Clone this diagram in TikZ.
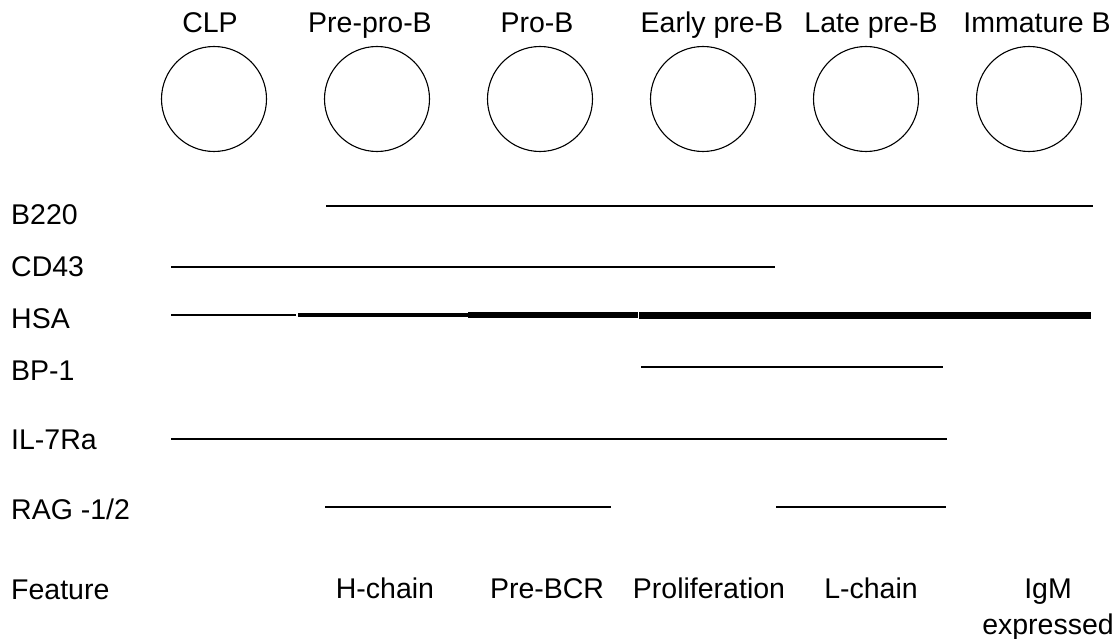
\documentclass[tikz,border=0pt]{standalone}
\usepackage{fontspec}
\setmainfont{Liberation Sans}
\tikzset{
  stage/.style={circle,draw,line width=1.1pt,minimum size=105pt,inner sep=0pt},
  lbl/.style={font=\fontsize{28.5}{36}\selectfont,inner sep=0pt,anchor=base},
  marker/.style={lbl,anchor=base west},
  bar/.style={line width=2pt}
}
\begin{document}
\begin{tikzpicture}[x=1pt,y=-1pt]
      \useasboundingbox (0,0) rectangle (1115,639);
      % stages
      \draw
        (214,99) node[stage] (clp){}
        (377,99) node[stage] (prepro){}
        (540,99) node[stage] (pro){}
        (703,99) node[stage] (earlypre){}
        (866,99) node[stage] (latepre){}
        (1029,99) node[stage] (immature){};
      \draw
        (210,33) node[lbl] (tclp){CLP}
        (370,33) node[lbl] (tprepro){Pre-pro-B}
        (537,33) node[lbl] (tpro){Pro-B}
        (712,33) node[lbl] (tearlypre){Early pre-B}
        (871,33) node[lbl] (tlatepre){Late pre-B}
        (1037,33) node[lbl] (timmature){Immature B};
      % markers
      \draw
        (11,224) node[marker] (b220){B220}
        (11,276) node[marker] (cd43){CD43}
        (11,328) node[marker] (hsa){HSA}
        (11,380) node[marker] (bp1){BP-1}
        (11,449) node[marker] (il7ra){IL-7Ra}
        (11,519) node[marker] (rag){RAG -1/2}
        (11,599) node[marker] (feature){Feature};
      \begin{scope}[bar]
        \draw (326,206) -- (1093,206);
        \draw (171,267) -- (775,267);
        \draw (641,367) -- (943,367);
        \draw (171,439) -- (947,439);
        \draw (325,507) -- (611,507);
        \draw (776,507) -- (946,507);
      \end{scope}
      % HSA gets stronger
      \draw[line width=2pt] (171,315) -- (296,315);
      \draw[line width=3.5pt] (298,315) -- (468,315);
      \draw[line width=5.5pt] (468,315) -- (638,315);
      \draw[line width=7pt] (639,315) -- (1091,315);
      % features
      \draw
        (385,598) node[lbl] (hchain){H-chain}
        (547,598) node[lbl] (prebcr){Pre-BCR}
        (709,598) node[lbl] (prolif){Proliferation}
        (871,598) node[lbl] (lchain){L-chain}
        (1048,634) node[lbl,align=center] (igm){IgM\\expressed};
    \end{tikzpicture}
\end{document}
